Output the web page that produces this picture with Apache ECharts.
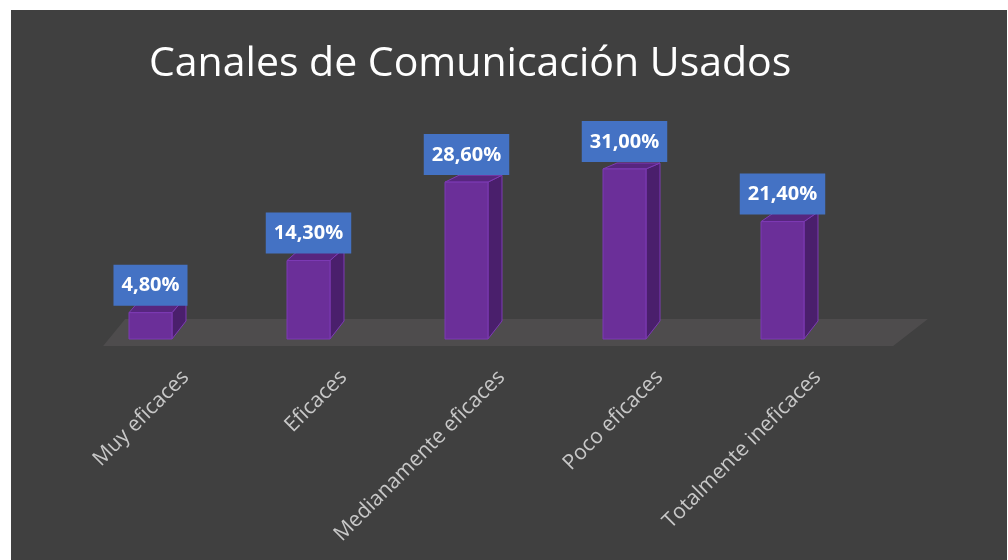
<!DOCTYPE html>
<html>
<head>
<meta charset="utf-8">
<title>Canales de Comunicación Usados</title>
<script src="https://cdn.jsdelivr.net/npm/echarts@6/dist/echarts.min.js"></script>
<style>
  html, body { margin: 0; padding: 0; background: #ffffff; }
  #chart { width: 1008px; height: 560px; }
</style>
</head>
<body>
<div id="chart"></div>
<script>
// datos
const categorias = ['Muy eficaces', 'Eficaces', 'Medianamente eficaces', 'Poco eficaces', 'Totalmente ineficaces'];
const porcentajes = [4.8, 14.3, 28.6, 31.0, 21.4];
const etiquetas = ['4,80%', '14,30%', '28,60%', '31,00%', '21,40%'];

const dom = echarts.init(document.getElementById('chart'));

// suelo 3D bajo las barras
function renderSuelo(params, api) {
  const c0 = api.coord([0, 0]);
  const c4 = api.coord([categorias.length - 1, 0]);
  const band = api.size([1, 0])[0];
  const yFront = c0[1] + 7;
  const yBack = c0[1] - 20;
  return {
    type: 'polygon',
    shape: {
      points: [
        [c0[0] - 0.30 * band, yFront],
        [c4[0] + 0.70 * band, yFront],
        [c4[0] + 0.92 * band, yBack],
        [c0[0] - 0.16 * band, yBack]
      ]
    },
    style: { fill: '#4e4c4d' },
    silent: true
  };
}

// barra con cara frontal, lateral y superior
function renderBarra(params, api) {
  const idx = api.value(0);
  const top = api.coord([idx, api.value(1)]);
  const base = api.coord([idx, 0]);
  const band = api.size([1, 0])[0];
  const w = band * 0.272;
  const x0 = top[0] - w / 2;
  const x1 = top[0] + w / 2;
  const dx = 14;
  const dyAt = y => -18 + 0.071 * (base[1] - y);
  const dTop = dyAt(top[1]);
  const dBase = dyAt(base[1]);
  const edge = '#7d3bb5';
  return {
    type: 'group',
    children: [
      {
        type: 'polygon',
        shape: { points: [[x1, top[1]], [x1 + dx, top[1] + dTop], [x1 + dx, base[1] + dBase], [x1, base[1]]] },
        style: { fill: '#4a1f6c', stroke: edge, lineWidth: 1 }
      },
      {
        type: 'polygon',
        shape: { points: [[x0, top[1]], [x0 + dx, top[1] + dTop], [x1 + dx, top[1] + dTop], [x1, top[1]]] },
        style: { fill: '#57267f', stroke: edge, lineWidth: 1 }
      },
      {
        type: 'rect',
        shape: { x: x0, y: top[1], width: w, height: base[1] - top[1] },
        style: { fill: '#6b2f99', stroke: edge, lineWidth: 1 }
      },
      {
        type: 'text',
        x: top[0],
        y: top[1] - 7,
        style: {
          text: etiquetas[idx],
          align: 'center',
          verticalAlign: 'bottom',
          fill: '#ffffff',
          font: 'bold 20px "Open Sans"',
          backgroundColor: '#4472c4',
          padding: [11, 8, 10, 8]
        }
      }
    ]
  };
}

const option = {
  animation: false,
  graphic: [
    {
      type: 'rect',
      left: 11,
      top: 10,
      shape: { width: 996, height: 550 },
      style: { fill: '#404040' },
      silent: true,
      z: -10
    }
  ],
  title: {
    text: 'Canales de Comunicación Usados',
    left: 144,
    top: 39,
    textStyle: {
      color: '#ffffff',
      fontFamily: 'Open Sans',
      fontWeight: 'normal',
      fontSize: 41
    }
  },
  grid: [
    { left: 71.5, right: 146.5, top: 147, bottom: 221 },
    { left: 106.5, right: 111.5, top: 147, bottom: 214 }
  ],
  xAxis: [
    {
      type: 'category',
      gridIndex: 0,
      data: categorias,
      axisLine: { show: false },
      axisTick: { show: false },
      axisLabel: { show: false }
    },
    {
      type: 'category',
      gridIndex: 1,
      data: categorias,
      axisLine: { show: false },
      axisTick: { show: false },
      axisLabel: {
        rotate: 45,
        margin: 28,
        interval: 0,
        color: '#c8c8c8',
        fontFamily: 'Open Sans',
        fontSize: 21
      }
    }
  ],
  yAxis: [
    { type: 'value', gridIndex: 0, min: 0, max: 35, show: false },
    { type: 'value', gridIndex: 1, min: 0, max: 35, show: false }
  ],
  series: [
    {
      type: 'custom',
      xAxisIndex: 0,
      yAxisIndex: 0,
      renderItem: renderSuelo,
      data: [[0, 0]],
      z: 1
    },
    {
      type: 'custom',
      xAxisIndex: 0,
      yAxisIndex: 0,
      renderItem: renderBarra,
      data: porcentajes.map((v, i) => [i, v]),
      z: 2
    }
  ]
};

dom.setOption(option);
window.addEventListener('resize', dom.resize);
</script>
</body>
</html>
